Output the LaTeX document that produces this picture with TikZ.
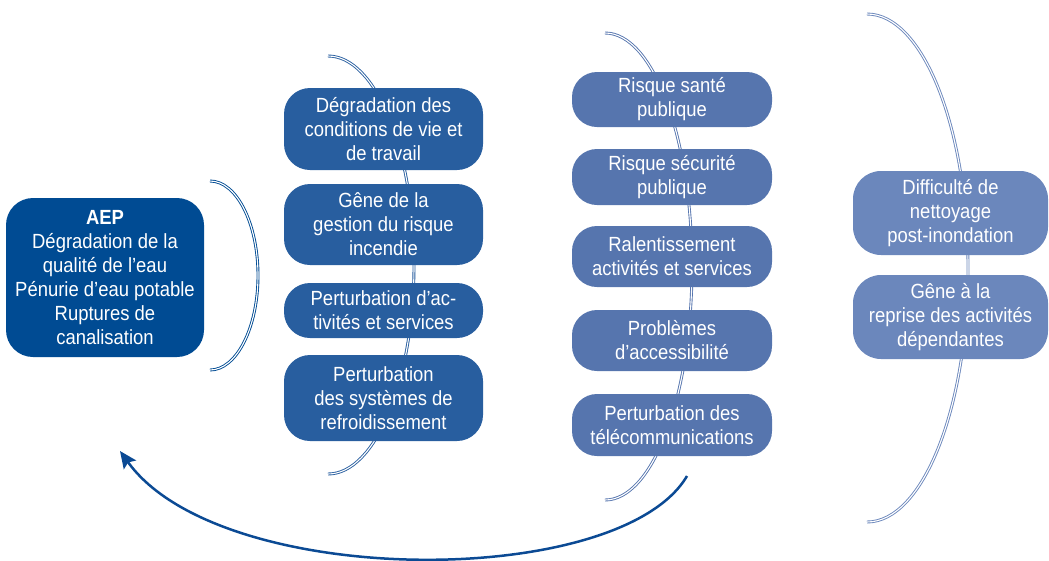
\documentclass[tikz,border=0pt]{standalone}
\usepackage{fontspec}
\setmainfont[FakeStretch=0.9]{Liberation Sans}
\usetikzlibrary{arrows.meta}
\definecolor{cAEP}{HTML}{004B93}
\definecolor{cDeux}{HTML}{285E9F}
\definecolor{cTrois}{HTML}{5675AE}
\definecolor{cQuatre}{HTML}{6B87BC}
\definecolor{cFleche}{HTML}{0B4A94}
\tikzset{
  boxbase/.style={inner sep=0pt, align=center, text=white,
    font=\fontsize{20.5}{24}\selectfont},
  aepbox/.style={boxbase, fill=cAEP, rounded corners=27pt, minimum width=198pt, minimum height=159pt},
  colA/.style={boxbase, fill=cDeux, rounded corners=26pt, minimum width=199pt},
  colB/.style={boxbase, fill=cTrois, rounded corners=25pt, minimum width=200pt},
  colC/.style={boxbase, fill=cQuatre, rounded corners=28pt, minimum width=195pt},
  dbl/.style={line width=0.9pt, double=white, double distance=1.1pt},
  fleche/.style={draw=cFleche, line width=2.5pt, -{Stealth[length=17pt,width=15pt,inset=3pt]}}
}
\begin{document}
\begin{tikzpicture}[x=1pt,y=-1pt]
\useasboundingbox (0,0) rectangle (1049,560);
% curved double strokes (behind boxes)
\coordinate (bA) at (210,181);
\coordinate (bB) at (328,56);
\coordinate (bC) at (605,33);
\coordinate (bD) at (867,14);
\draw[dbl, draw=cAEP] (bA) arc[start angle=-90, end angle=90, x radius=48, y radius=94.5];
\draw[dbl, draw=cDeux] (bB) arc[start angle=-90, end angle=90, x radius=86, y radius=209];
\draw[dbl, draw=cTrois] (bC) arc[start angle=-90, end angle=90, x radius=87, y radius=233.5];
\draw[dbl, draw=cQuatre] (bD) arc[start angle=-90, end angle=90, x radius=101, y radius=254];
% AEP
\node[aepbox] (aep) at (105,277.5) {\textbf{AEP}\\Dégradation de la\\qualité de l’eau\\Pénurie d’eau potable\\Ruptures de\\canalisation};
% column 2
\node[colA, minimum height=82pt] (d1) at (383.5,129) {Dégradation des\\conditions de vie et\\de travail};
\node[colA, minimum height=81pt] (d2) at (383.5,224.5) {Gêne de la\\gestion du risque\\incendie};
\node[colA, minimum height=55pt] (d3) at (383.5,310.5) {Perturbation d’ac-\\tivités et services};
\node[colA, minimum height=86pt] (d4) at (383.5,398) {Perturbation\\des systèmes de\\refroidissement};
% column 3
\node[colB, minimum height=55pt] (t1) at (672,99.5) {Risque santé\\publique};
\node[colB, minimum height=56pt] (t2) at (672,177) {Risque sécurité\\publique};
\node[colB, minimum height=61pt] (t3) at (672,256.5) {Ralentissement\\activités et services};
\node[colB, minimum height=61pt] (t4) at (672,340.5) {Problèmes\\d’accessibilité};
\node[colB, minimum height=62pt] (t5) at (672,425) {Perturbation des\\télécommunications};
% column 4
\node[colC, minimum height=84pt] (q1) at (950.5,213) {Difficulté de\\nettoyage\\post-inondation};
\node[colC, minimum height=84pt] (q2) at (950.5,317) {Gêne à la\\reprise des activités\\dépendantes};
% return arrow
\coordinate (fs) at (687,476);
\coordinate (fe) at (120,451);
\draw[fleche] (fs) .. controls (620,590) and (220,590) .. (fe);
\end{tikzpicture}
\end{document}
